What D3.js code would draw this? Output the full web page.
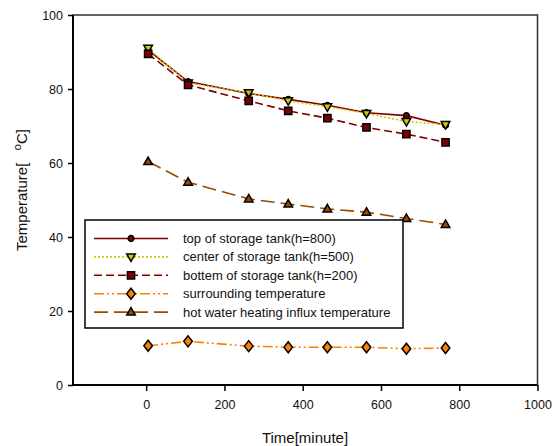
<!DOCTYPE html>
<html>
<head>
<meta charset="utf-8">
<script src="https://cdn.jsdelivr.net/npm/d3@7"></script>
<style>
  body { margin: 0; background: #fff; }
  text { font-family: "Liberation Sans", Arial, sans-serif; fill: #111; }
</style>
</head>
<body>
<script>
// data
const times = [5, 107, 262, 363, 463, 563, 665, 765]
const topTank = [90.5, 82.0, 78.8, 77.2, 75.6, 73.6, 72.8, 70.2]
const centerTank = [91.0, 81.6, 79.0, 76.8, 75.2, 73.4, 71.2, 70.4]
const bottomTank = [89.5, 81.1, 76.8, 74.1, 72.1, 69.6, 67.8, 65.6]
const surrounding = [10.6, 11.8, 10.5, 10.2, 10.2, 10.2, 9.8, 10.0]
const hotWater = [60.4, 54.8, 50.3, 48.9, 47.6, 46.7, 45.0, 43.4]
const xTicks = [0, 200, 400, 600, 800, 1000]
const yTicks = [0, 20, 40, 60, 80, 100]

const series = [
  { name: "top of storage tank(h=800)", values: topTank, color: "#800000", dash: null, marker: "circle", fill: "#800000" },
  { name: "center of storage tank(h=500)", values: centerTank, color: "#cccc00", dash: "2,2", marker: "down", fill: "#cccc00" },
  { name: "bottem of storage tank(h=200)", values: bottomTank, color: "#800000", dash: "8,4", marker: "square", fill: "#800000" },
  { name: "surrounding temperature", values: surrounding, color: "#ff8000", dash: "10,3,2,3,2,3", marker: "diamond", fill: "#ff8000" },
  { name: "hot water heating influx temperature", values: hotWater, color: "#994c00", dash: "14,6", marker: "up", fill: "#994c00" }
]

const w = 558, h = 446
const pLeft = 73, pRight = 537.5, pTop = 15, pBottom = 385

const x = d3.scaleLinear().domain([-187, 1000]).range([pLeft, pRight])
const y = d3.scaleLinear().domain([0, 100]).range([pBottom, pTop])

const svg = d3.select("body").append("svg")
  .attr("width", w)
  .attr("height", h)

// frame
svg.append("rect")
  .attr("x", pLeft).attr("y", pTop)
  .attr("width", pRight - pLeft).attr("height", pBottom - pTop)
  .attr("fill", "none").attr("stroke", "#333").attr("stroke-width", 1.5)

function symbolFor(m) {
  if (m == "circle") return d3.symbol(d3.symbolCircle, 26)()
  if (m == "square") return d3.symbol(d3.symbolSquare, 52)()
  if (m == "diamond") return "M0,-5.5L4.3,0L0,5.5L-4.3,0Z"
  if (m == "up") return "M0,-4.5L4.3,3L-4.3,3Z"
  if (m == "down") return "M0,4.5L4.3,-3L-4.3,-3Z"
}

const line = d3.line()
  .x(d => x(d[0]))
  .y(d => y(d[1]))

series.forEach(s => {
  const pts = times.map((t, i) => [t, s.values[i]])
  svg.append("path")
    .datum(pts)
    .attr("d", line)
    .attr("fill", "none")
    .attr("stroke", s.color)
    .attr("stroke-width", 1.6)
    .attr("stroke-dasharray", s.dash)

  svg.selectAll(null)
    .data(pts)
    .enter()
    .append("path")
    .attr("d", symbolFor(s.marker))
    .attr("transform", d => "translate(" + x(d[0]) + "," + y(d[1]) + ")")
    .attr("fill", s.fill)
    .attr("stroke", "#000")
    .attr("stroke-width", 1.5)
})

// axes
const xAxis = d3.axisBottom(x).tickValues(xTicks).tickFormat(d3.format("d")).tickSize(6).tickPadding(9)
const gx = svg.append("g")
  .attr("transform", "translate(0," + pBottom + ")")
  .call(xAxis)
gx.select(".domain").attr("stroke", "#000").attr("stroke-width", 2)
  .attr("d", "M" + pLeft + ",0H" + pRight)
gx.selectAll(".tick line").attr("stroke-width", 1.5)
gx.selectAll("text").style("font-size", "12.5px").style("font-family", "Liberation Sans, Arial, sans-serif").attr("fill", "#111")

const yAxis = d3.axisLeft(y).tickValues(yTicks).tickSize(5).tickPadding(5)
const gy = svg.append("g")
  .attr("transform", "translate(" + pLeft + ",0)")
  .call(yAxis)
gy.select(".domain").attr("stroke", "#000").attr("stroke-width", 2)
  .attr("d", "M0," + pTop + "V" + pBottom)
gy.selectAll(".tick line").attr("stroke-width", 1.5)
gy.selectAll("text").style("font-size", "12.5px").style("font-family", "Liberation Sans, Arial, sans-serif").attr("fill", "#111")

// titles
svg.append("text")
  .attr("x", 305).attr("y", 443)
  .attr("text-anchor", "middle")
  .style("font-size", "15px")
  .text("Time[minute]")

const yt = svg.append("text")
  .attr("transform", "translate(27,190) rotate(-90)")
  .attr("text-anchor", "middle")
  .style("font-size", "15px")
  .style("white-space", "pre")
yt.append("tspan").text("Temperature[   ")
yt.append("tspan").attr("dy", -6).style("font-size", "11px").text("o")
yt.append("tspan").attr("dy", 6).text("C]")

// legend
const lg = svg.append("g")
lg.append("rect")
  .attr("x", 85).attr("y", 220)
  .attr("width", 318).attr("height", 108)
  .attr("fill", "#fff").attr("stroke", "#000").attr("stroke-width", 1.5)

series.forEach((s, i) => {
  const ly = 238.5 + i * 18.4
  lg.append("line")
    .attr("x1", 94).attr("x2", 168)
    .attr("y1", ly).attr("y2", ly)
    .attr("stroke", s.color)
    .attr("stroke-width", 1.6)
    .attr("stroke-dasharray", s.dash)
  lg.append("path")
    .attr("d", symbolFor(s.marker))
    .attr("transform", "translate(131," + ly + ")")
    .attr("fill", s.fill)
    .attr("stroke", "#000")
    .attr("stroke-width", 1.5)
  lg.append("text")
    .attr("x", 183).attr("y", ly + 4.5)
    .style("font-size", "13px")
    .text(s.name)
})
</script>
</body>
</html>
